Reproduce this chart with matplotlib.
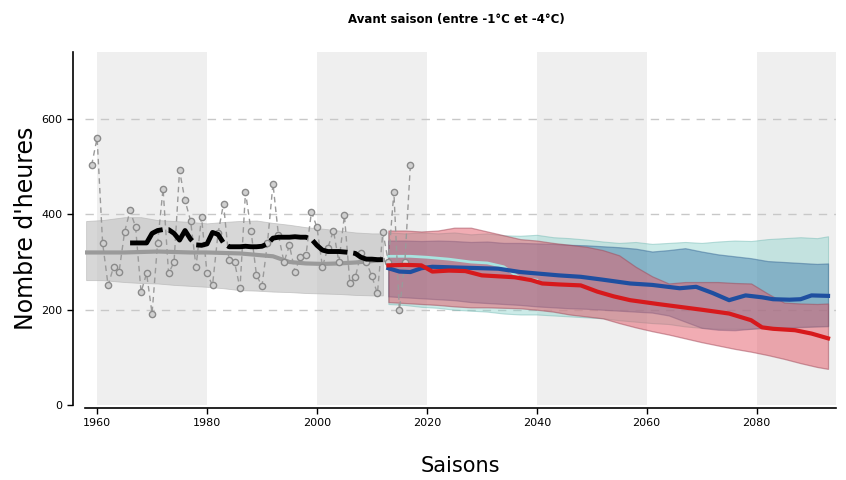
import matplotlib
matplotlib.use("Agg")
import matplotlib.pyplot as plt
import numpy as np

# observed seasons (hours between -1 and -4 degC)
obs_years = list(range(1959, 2018))
obs_hours = [503, 560, 340, 251, 290, 280, 363, 408, 373, 237,
             276, 192, 339, 454, 276, 300, 492, 429, 387, 290,
             394, 276, 251, 360, 422, 304, 300, 245, 447, 366,
             272, 250, 340, 464, 356, 300, 335, 280, 311, 314,
             405, 373, 290, 330, 366, 300, 398, 255, 269, 318,
             300, 270, 234, 363, 300, 447, 199, 300, 503]

# running mean of the observations
roll_years = list(range(1966, 2013))
roll_hours = [340, 340, 340, 340, 360, 366, 368, 368, 360, 346,
              366, 348, 336, 335, 338, 362, 358, 340, 332, 332,
              332, 333, 332, 332, 333, 338, 350, 352, 352, 352,
              353, 352, 352, 348, 335, 325, 322, 322, 322, 321,
              320, 318, 310, 306, 306, 305, 305]

# reanalysis envelope
ref_years = [1958, 1961, 1965, 1968, 1971, 1974, 1977, 1980, 1983, 1986,
             1989, 1992, 1995, 1998, 2001, 2004, 2007, 2010, 2012]
ref_high = [386, 388, 394, 394, 388, 386, 384, 381, 384, 386,
            387, 382, 378, 373, 370, 366, 362, 360, 360]
ref_low = [262, 262, 258, 256, 255, 252, 250, 248, 245, 241,
           240, 238, 237, 235, 234, 233, 231, 230, 230]
ref_med = [320, 320, 320, 321, 322, 321, 320, 320, 319, 318,
           315, 312, 300, 297, 296, 297, 299, 302, 304]

# projections
proj_years = [2013, 2016, 2019, 2022, 2025, 2028, 2031, 2034, 2037, 2040,
              2043, 2046, 2049, 2052, 2055, 2058, 2061, 2064, 2067, 2070,
              2073, 2076, 2079, 2082, 2085, 2088, 2091, 2093]
b_out_high = [362, 360, 362, 360, 362, 358, 360, 356, 355, 357,
              352, 350, 347, 343, 340, 342, 338, 340, 342, 340,
              343, 345, 344, 348, 350, 352, 350, 354]
b_out_low = [212, 210, 206, 204, 200, 198, 196, 192, 190, 190,
             188, 186, 184, 182, 178, 175, 172, 170, 165, 162,
             160, 160, 160, 162, 162, 163, 165, 165]
b_in_high = [345, 345, 344, 345, 344, 342, 343, 340, 340, 339,
             338, 336, 335, 333, 331, 328, 322, 325, 329, 322,
             316, 312, 308, 302, 300, 298, 296, 297]
b_in_low = [228, 226, 224, 222, 220, 216, 214, 212, 210, 207,
            205, 203, 202, 200, 198, 196, 194, 188, 175, 162,
            158, 157, 160, 163, 163, 164, 165, 166]
r_high = [366, 366, 364, 366, 372, 372, 364, 356, 348, 345,
          340, 336, 332, 325, 314, 290, 270, 255, 258, 258,
          258, 256, 255, 234, 215, 213, 212, 213]
r_low = [216, 214, 212, 210, 207, 205, 205, 204, 203, 200,
         196, 190, 186, 182, 172, 163, 155, 148, 140, 132,
         125, 118, 112, 105, 97, 88, 80, 76]

blue_years = [2013, 2015, 2017, 2019, 2021, 2024, 2027, 2030, 2033, 2037,
              2040, 2044, 2048, 2052, 2057, 2061, 2066, 2069, 2072, 2075,
              2078, 2081, 2083, 2086, 2088, 2090, 2093]
blue_med = [287, 280, 279, 287, 290, 289, 288, 287, 286, 279,
            276, 272, 269, 263, 255, 252, 245, 248, 235, 220,
            230, 226, 222, 221, 222, 230, 229]
red_years = [2013, 2016, 2019, 2021, 2024, 2027, 2030, 2033, 2036, 2039,
             2041, 2044, 2048, 2051, 2054, 2057, 2062, 2066, 2070, 2075,
             2079, 2081, 2083, 2087, 2090, 2093]
red_med = [293, 294, 293, 280, 282, 281, 272, 270, 268, 262,
           255, 253, 251, 238, 228, 220, 212, 206, 200, 192,
           178, 163, 160, 157, 150, 140]
cyan_years = [2013, 2017, 2020, 2024, 2028, 2031, 2034, 2037, 2040]
cyan_vals = [312, 312, 310, 306, 300, 298, 290, 266, 262]

decades_shaded = [(1960, 1980), (2000, 2020), (2040, 2060), (2080, 2100)]

fig = plt.figure(figsize=(8.46, 4.8), dpi=100)
ax = fig.add_axes([0.1005, 0.156, 0.888, 0.7354])

for a, b in decades_shaded:
    ax.axvspan(a, b, color="#efefef", lw=0, zorder=0)

for y in [200, 400, 600]:
    ax.axhline(y, color="#c8c8c8", lw=1, ls=(0, (6, 5)), zorder=1)

# reanalysis
ax.fill_between(ref_years, ref_low, ref_high, color="#bdbdbd", alpha=0.6,
                lw=0.6, edgecolor="#b0b0b0", zorder=2)
ax.plot(ref_years, ref_med, color="#9a9a9a", lw=3, zorder=3)

# projection envelopes
ax.fill_between(proj_years, b_out_low, b_out_high, color="#8fd3cc", alpha=0.45,
                lw=0.8, edgecolor="#6fb8b2", zorder=2)
ax.fill_between(proj_years, b_in_low, b_in_high, color="#3a78a8", alpha=0.45,
                lw=0.9, edgecolor="#2f5f90", zorder=2)
ax.fill_between(proj_years, r_low, r_high, color="#e45a68", alpha=0.5,
                lw=0.9, edgecolor="#a04858", zorder=2)

ax.plot(cyan_years, cyan_vals, color="#a8e4e0", lw=2, zorder=3)

# observations
ax.plot(obs_years, obs_hours, ls=(0, (4, 3)), color="#9a9a9a", lw=1,
        marker="o", ms=4.5, mfc="#d0d0d0", mec="#8a8a8a", mew=1, zorder=4)
ax.plot(roll_years, roll_hours, color="black", lw=3.5, ls=(0, (8, 1.2)), zorder=5)

ax.plot(blue_years, blue_med, color="#1f4fa0", lw=3, zorder=6)
ax.plot(red_years, red_med, color="#d7191c", lw=3, zorder=6)

ax.set_xlim(1957.8, 2094.5)
ax.set_ylim(0, 740)
ax.set_xticks([1960, 1980, 2000, 2020, 2040, 2060, 2080])
ax.set_yticks([0, 200, 400, 600])
ax.tick_params(labelsize=8, length=4, width=1)

for s in ["top", "right"]:
    ax.spines[s].set_visible(False)
ax.spines["left"].set_position(("outward", 9))
ax.spines["bottom"].set_position(("outward", 2))
ax.spines["left"].set_linewidth(1.2)
ax.spines["bottom"].set_linewidth(1.2)

ax.set_ylabel("Nombre d'heures", fontsize=17, labelpad=2)
ax.set_xlabel("Saisons", fontsize=15, labelpad=20)
fig.text(0.54, 0.96, "Avant saison (entre -1°C et -4°C)", ha="center",
         va="center", fontsize=8.5, fontweight="bold")

fig.savefig("out.png", dpi=100)
